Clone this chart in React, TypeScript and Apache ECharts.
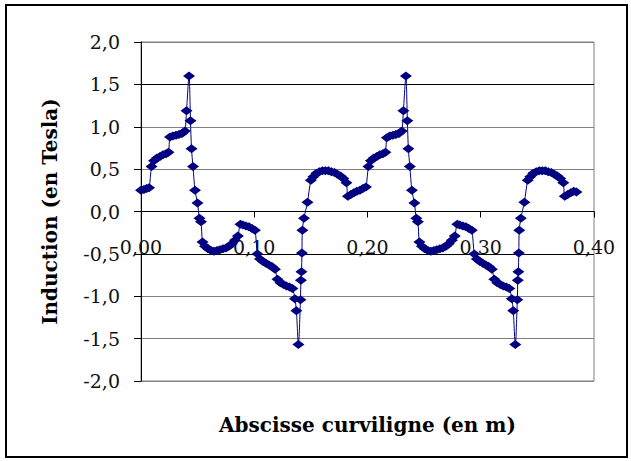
import React, { useEffect, useRef } from "react";
import * as echarts from "echarts";

// Abscisse curviligne (m)
const abscisse = [
  0.0000, 0.0026, 0.0049, 0.0071, 0.0093, 0.0115, 0.0141, 0.0168, 0.0194, 0.0221, 0.0243,
  0.0256, 0.0282, 0.0309, 0.0335, 0.0362, 0.0388,
  0.0402, 0.0424, 0.0437, 0.0446, 0.0459,
  0.0477, 0.0499, 0.0516, 0.0530, 0.0543,
  0.0565, 0.0591, 0.0618, 0.0644, 0.0671, 0.0697, 0.0724, 0.0750, 0.0777, 0.0803, 0.0830, 0.0856,
  0.0878, 0.0900, 0.0927, 0.0953, 0.0980, 0.1006,
  0.1028, 0.1050, 0.1077, 0.1103, 0.1130, 0.1156, 0.1183,
  0.1205, 0.1231, 0.1258, 0.1284, 0.1311, 0.1337,
  0.1359, 0.1372, 0.1390, 0.1408, 0.1412, 0.1417, 0.1421, 0.1425, 0.1439,
  0.1470, 0.1500,
  0.1522, 0.1549, 0.1575, 0.1602, 0.1628, 0.1655, 0.1681, 0.1708, 0.1734, 0.1761, 0.1787, 0.1814,
  0.1827, 0.1853, 0.1880, 0.1906, 0.1933, 0.1959, 0.1986,
  0.2008, 0.2030, 0.2056, 0.2083, 0.2109, 0.2136, 0.2158,
  0.2171, 0.2197, 0.2224, 0.2250, 0.2277, 0.2303,
  0.2317, 0.2339, 0.2352, 0.2361, 0.2374,
  0.2392, 0.2414, 0.2431, 0.2445, 0.2458,
  0.2480, 0.2506, 0.2533, 0.2559, 0.2586, 0.2612, 0.2639, 0.2665, 0.2692, 0.2718, 0.2745, 0.2771,
  0.2793, 0.2815, 0.2842, 0.2868, 0.2895, 0.2921,
  0.2943, 0.2965, 0.2992, 0.3018, 0.3045, 0.3071, 0.3098,
  0.3120, 0.3146, 0.3173, 0.3199, 0.3226, 0.3252,
  0.3274, 0.3287, 0.3305, 0.3323, 0.3327, 0.3332, 0.3336, 0.3340, 0.3354,
  0.3385, 0.3415,
  0.3437, 0.3464, 0.3490, 0.3517, 0.3543, 0.3570, 0.3596, 0.3623, 0.3649, 0.3676, 0.3702, 0.3729,
  0.3742, 0.3768, 0.3795, 0.3821, 0.3845,
];

// Induction (T)
const induction = [
  0.25, 0.26, 0.27, 0.28, 0.53, 0.60, 0.63, 0.65, 0.67, 0.68, 0.70,
  0.88, 0.89, 0.90, 0.91, 0.92, 0.95,
  1.19, 1.60, 1.07, 0.74, 0.53,
  0.25, 0.10, -0.08, -0.12, -0.36,
  -0.41, -0.44, -0.46, -0.47, -0.46, -0.45, -0.44, -0.43, -0.41, -0.38, -0.34, -0.29,
  -0.15, -0.16, -0.17, -0.18, -0.20, -0.22,
  -0.50, -0.56, -0.59, -0.61, -0.63, -0.65, -0.68,
  -0.80, -0.84, -0.86, -0.88, -0.89, -0.91,
  -1.03, -1.17, -1.57, -1.04, -0.81, -0.71, -0.49, -0.22, -0.08,
  0.11, 0.37,
  0.41, 0.45, 0.47, 0.48, 0.48, 0.48, 0.47, 0.46, 0.44, 0.42, 0.39, 0.34,
  0.18, 0.20, 0.22, 0.24, 0.25, 0.27, 0.29,
  0.53, 0.60, 0.63, 0.65, 0.67, 0.68, 0.70,
  0.87, 0.89, 0.90, 0.91, 0.92, 0.95,
  1.19, 1.60, 1.07, 0.74, 0.53,
  0.25, 0.10, -0.08, -0.12, -0.36,
  -0.41, -0.44, -0.46, -0.47, -0.46, -0.45, -0.44, -0.43, -0.41, -0.38, -0.34, -0.29,
  -0.15, -0.16, -0.17, -0.18, -0.20, -0.22,
  -0.50, -0.56, -0.59, -0.61, -0.63, -0.65, -0.68,
  -0.80, -0.84, -0.86, -0.88, -0.89, -0.91,
  -1.03, -1.17, -1.57, -1.04, -0.81, -0.71, -0.49, -0.22, -0.08,
  0.11, 0.37,
  0.41, 0.45, 0.47, 0.48, 0.48, 0.48, 0.47, 0.46, 0.44, 0.42, 0.39, 0.34,
  0.18, 0.20, 0.22, 0.24, 0.23,
];

const xTitle = "Abscisse curviligne (en m)";
const yTitle = "Induction (en Tesla)";

export default function App() {
  const ref = useRef<HTMLDivElement>(null);

  useEffect(() => {
    document.body.style.margin = "0";
    const chart = echarts.init(ref.current!, null, { renderer: "svg" });
    const data = abscisse.map((x, i) => [x, induction[i]]);
    const font = "DejaVu Serif";
    const gridColors = ["#808080", "#808080", "#808080", "#000000", "#808080", "#808080", "#808080", "#000000", "#808080"];
    const labelStyle = {
      fontFamily: font,
      fontSize: 19,
      color: "#111",
    };
    chart.setOption({
      animation: false,
      backgroundColor: "#ffffff",
      grid: {
        left: 141, right: 37, top: 42, bottom: 80,
        outerBoundsMode: "none",
        containLabel: false,
        show: true, borderColor: "#808080", borderWidth: 1, backgroundColor: "transparent",
      },
      xAxis: [
        {
          type: "value",
          min: 0,
          max: 0.4,
          interval: 0.1,
          axisLine: { onZero: true, lineStyle: { color: "#000", width: 1 } },
          axisTick: { show: true, inside: false, length: 6, lineStyle: { color: "#000" } },
          axisLabel: { show: false },
          splitLine: { show: false },
        },
        {
          type: "value",
          gridIndex: 0,
          position: "bottom",
          offset: -169.5,
          min: 0,
          max: 0.4,
          interval: 0.1,
          name: xTitle,
          nameLocation: "middle",
          nameGap: 203,
          nameTextStyle: { fontFamily: font, fontWeight: "bold", fontSize: 20, color: "#000" },
          axisLine: { show: false, onZero: false },
          axisTick: { show: false },
          axisLabel: {
            ...labelStyle,
            margin: 26,
            formatter: (v: number) => v.toFixed(2).replace(".", ","),
          },
          splitLine: { show: false },
        },
      ],
      yAxis: {
        type: "value",
        min: -2,
        max: 2,
        interval: 0.5,
        name: yTitle,
        nameLocation: "middle",
        nameRotate: 90,
        nameGap: 81,
        nameTextStyle: { fontFamily: font, fontWeight: "bold", fontSize: 20, color: "#000" },
        axisLine: { show: true, onZero: false, lineStyle: { color: "#000", width: 1 } },
        axisTick: { show: true, inside: false, length: 7, lineStyle: { color: "#000" } },
        axisLabel: {
          ...labelStyle,
          margin: 21,
          formatter: (v: number) => v.toFixed(1).replace(".", ","),
        },
        splitLine: { show: true, lineStyle: { color: gridColors, width: 1 } },
      },
      graphic: [
        {
          type: "rect",
          silent: true,
          z: 100,
          shape: { x: 6, y: 5, width: 621, height: 452 },
          style: { fill: "none", stroke: "#000", lineWidth: 2 },
        },
      ],
      series: [
        {
          type: "line",
          xAxisIndex: 0,
          data,
          smooth: 0.3,
          symbol: "diamond",
          symbolSize: [12, 9],
          itemStyle: { color: "#000080" },
          lineStyle: { color: "#000080", width: 1 },
          z: 5,
        },
      ],
    });
    return () => chart.dispose();
  }, []);

  return (
    <div
      ref={ref}
      style={{ position: "fixed", left: 0, top: 0, width: 631, height: 461, background: "#fff" }}
    />
  );
}
